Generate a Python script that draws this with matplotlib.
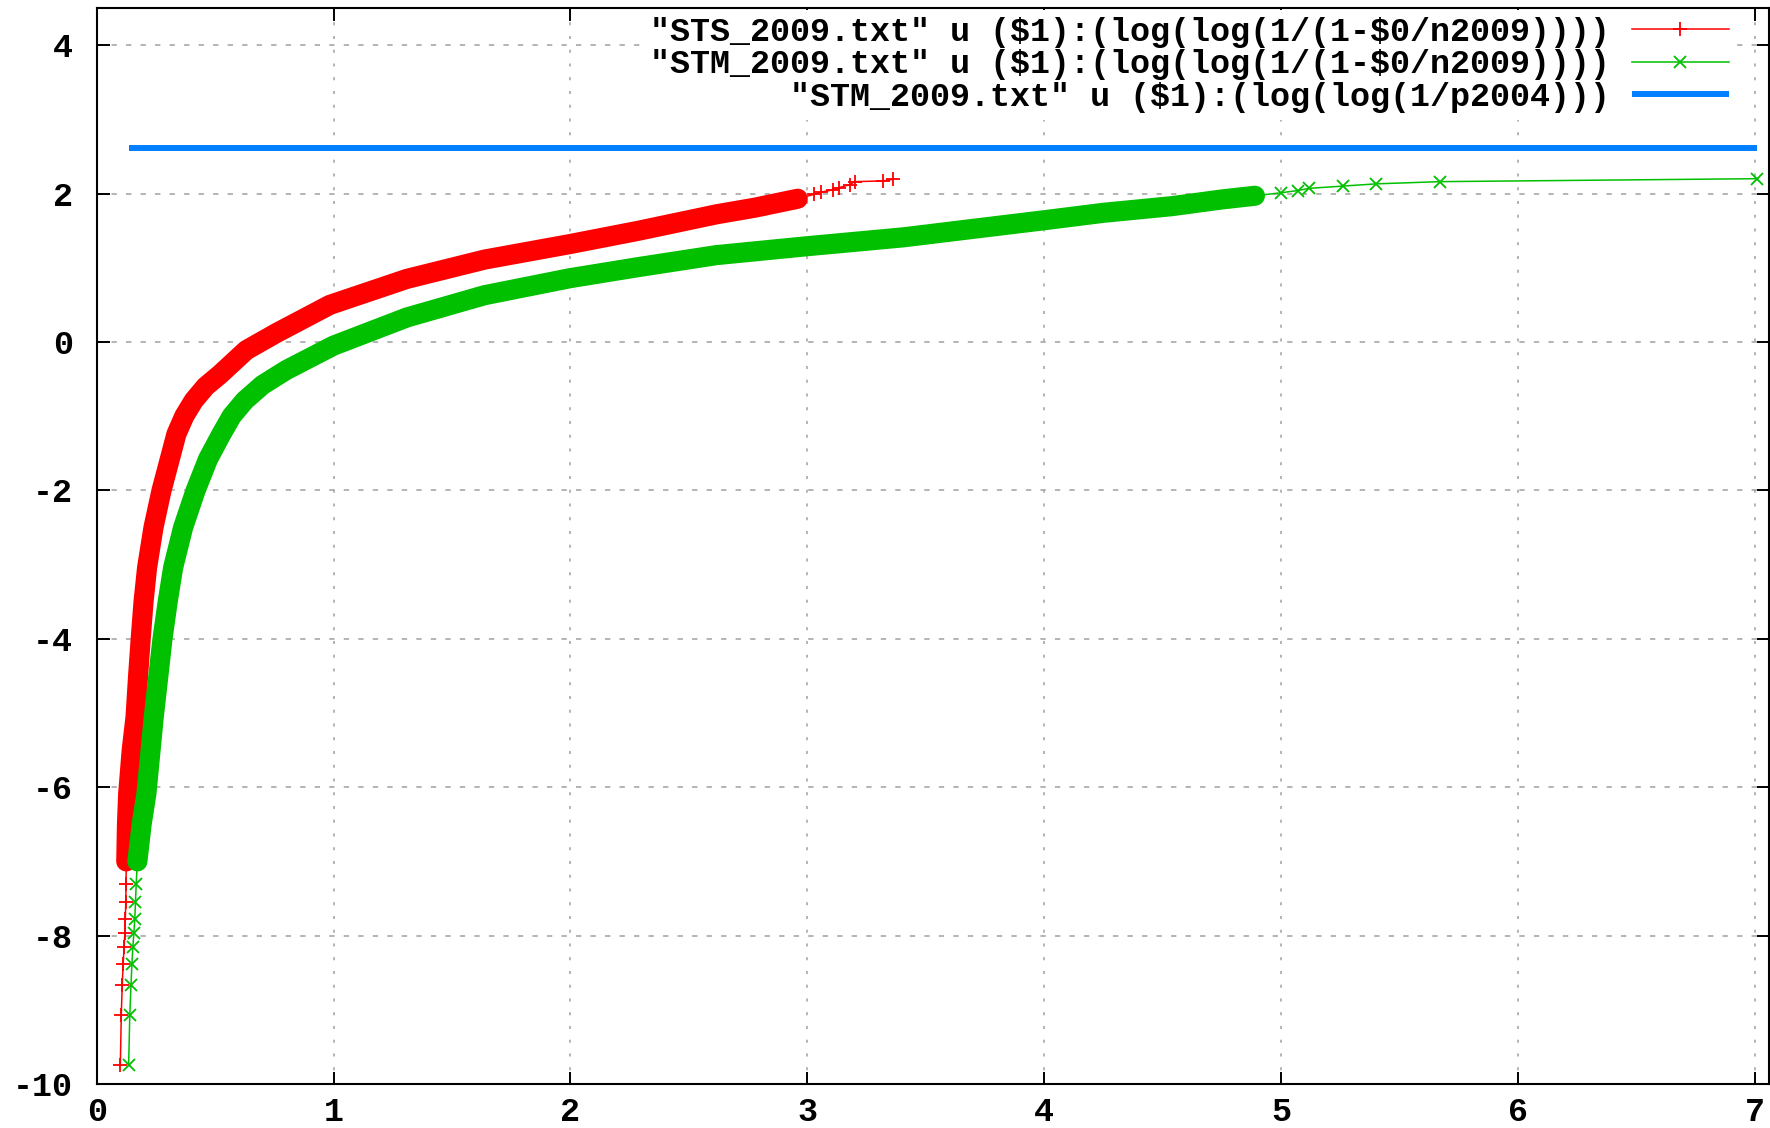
import matplotlib
matplotlib.use("Agg")
import matplotlib.pyplot as plt
from matplotlib.lines import Line2D

# values (x, log(log(...)))
# STS_2009: sparse low end, dense body, sparse high end
sts_low_x = [0.100, 0.104, 0.108, 0.112, 0.116, 0.119, 0.121, 0.123, 0.124]
sts_low_y = [-9.74, -9.07, -8.67, -8.38, -8.15, -7.97, -7.78, -7.55, -7.30]
sts_mid_x = [0.125, 0.128, 0.133, 0.148, 0.164, 0.175, 0.186, 0.198, 0.213, 0.240,
             0.274, 0.337, 0.370, 0.410, 0.460, 0.520, 0.632, 0.759, 0.985, 1.310,
             1.638, 2.000, 2.290, 2.617, 2.780, 2.960]
sts_mid_y = [-7.00, -6.50, -6.09, -5.50, -5.06, -4.50, -4.00, -3.50, -3.04, -2.50,
             -2.00, -1.24, -1.00, -0.79, -0.60, -0.44, -0.11, 0.12, 0.50, 0.85,
             1.11, 1.32, 1.50, 1.72, 1.81, 1.93]
sts_high_x = [3.03, 3.06, 3.11, 3.135, 3.18, 3.20, 3.32, 3.36]
sts_high_y = [1.99, 2.02, 2.05, 2.08, 2.12, 2.16, 2.17, 2.19]

# STM_2009
stm_low_x = [0.135, 0.140, 0.145, 0.149, 0.153, 0.157, 0.161, 0.164, 0.167]
stm_low_y = [-9.74, -9.07, -8.67, -8.38, -8.15, -7.97, -7.78, -7.55, -7.30]
stm_mid_x = [0.172, 0.190, 0.210, 0.241, 0.278, 0.300, 0.323, 0.365, 0.418, 0.470,
             0.527, 0.570, 0.625, 0.700, 0.800, 1.000, 1.310, 1.638, 2.000, 2.290,
             2.617, 3.000, 3.407, 3.690, 4.000, 4.250, 4.540, 4.750, 4.890]
stm_mid_y = [-7.00, -6.50, -6.09, -5.06, -4.00, -3.50, -3.04, -2.50, -2.00, -1.58,
             -1.24, -1.00, -0.79, -0.58, -0.38, -0.05, 0.33, 0.63, 0.86, 1.01,
             1.17, 1.29, 1.41, 1.52, 1.64, 1.74, 1.83, 1.92, 1.97]
stm_high_x = [5.00, 5.07, 5.12, 5.26, 5.40, 5.67, 7.01]
stm_high_y = [2.01, 2.04, 2.07, 2.10, 2.13, 2.16, 2.20]

# log(log(1/p2004))
p2004_level = 2.62

labels = ['"STS_2009.txt" u ($1):(log(log(1/(1-$0/n2009))))',
          '"STM_2009.txt" u ($1):(log(log(1/(1-$0/n2009))))',
          '"STM_2009.txt" u ($1):(log(log(1/p2004)))']

plt.rcParams['font.family'] = ['Liberation Mono', 'DejaVu Sans Mono']
plt.rcParams['font.weight'] = 'bold'
plt.rcParams['axes.unicode_minus'] = False
plt.rcParams['text.parse_math'] = False

RED = '#ff0000'
GREEN = '#00c000'
BLUE = '#0080ff'

fig = plt.figure(figsize=(17.7, 11.28), dpi=100)
ax = fig.add_axes([0.0546, 0.039, 0.9448, 0.9539])


def draw_series(low_x, low_y, mid_x, mid_y, high_x, high_y, color, marker, ms):
    xs = low_x + mid_x + high_x
    ys = low_y + mid_y + high_y
    ax.plot(xs, ys, color=color, lw=1.1, zorder=3)
    # the dense part is thousands of overlapping markers -> a thick band
    ax.plot(mid_x, mid_y, color=color, lw=14.5, solid_joinstyle='round',
            solid_capstyle='round', zorder=3)
    ax.plot(xs, ys, linestyle='none', marker=marker, ms=ms, mew=1.3,
            color=color, zorder=3)


draw_series(sts_low_x, sts_low_y, sts_mid_x, sts_mid_y, sts_high_x, sts_high_y,
            RED, '+', 10)
draw_series(stm_low_x, stm_low_y, stm_mid_x, stm_mid_y, stm_high_x, stm_high_y,
            GREEN, 'x', 9)

stm_all_x = stm_low_x + stm_mid_x + stm_high_x
ax.plot([stm_all_x[0], stm_all_x[-1]], [p2004_level, p2004_level], color=BLUE,
        lw=4.3, solid_capstyle='butt', zorder=3)

ax.set_xlim(0, 7.06)
ax.set_ylim(-10, 4.5)
ax.set_xticks(range(0, 8))
ax.set_yticks(range(-10, 5, 2))

ax.xaxis.grid(True, color='#a0a0a0', lw=1.1, linestyle=(0, (2, 7)))
ax.yaxis.grid(True, color='#a0a0a0', lw=1.1, linestyle=(0, (3.5, 6)))
ax.set_axisbelow(True)

for s in ax.spines.values():
    s.set_linewidth(1.5)
ax.tick_params(direction='in', length=9, width=1.4, top=True, right=True,
               labelsize=24)
ax.tick_params(axis='x', pad=9)
ax.tick_params(axis='y', pad=17)

handles = [Line2D([], [], color=RED, lw=1.1, marker='+', ms=10, mew=1.3),
           Line2D([], [], color=GREEN, lw=1.1, marker='x', ms=9, mew=1.3),
           Line2D([], [], color=BLUE, lw=4.3, solid_capstyle='butt')]
leg = ax.legend(handles, labels, loc='upper right', bbox_to_anchor=(0.980, 0.998),
                borderaxespad=0, frameon=True, fancybox=False, framealpha=1,
                facecolor='white', edgecolor='none', borderpad=0.2,
                handlelength=2.9, handletextpad=0.66, labelspacing=0.05,
                markerfirst=False, fontsize=24)

plt.savefig("out.png", dpi=100)
